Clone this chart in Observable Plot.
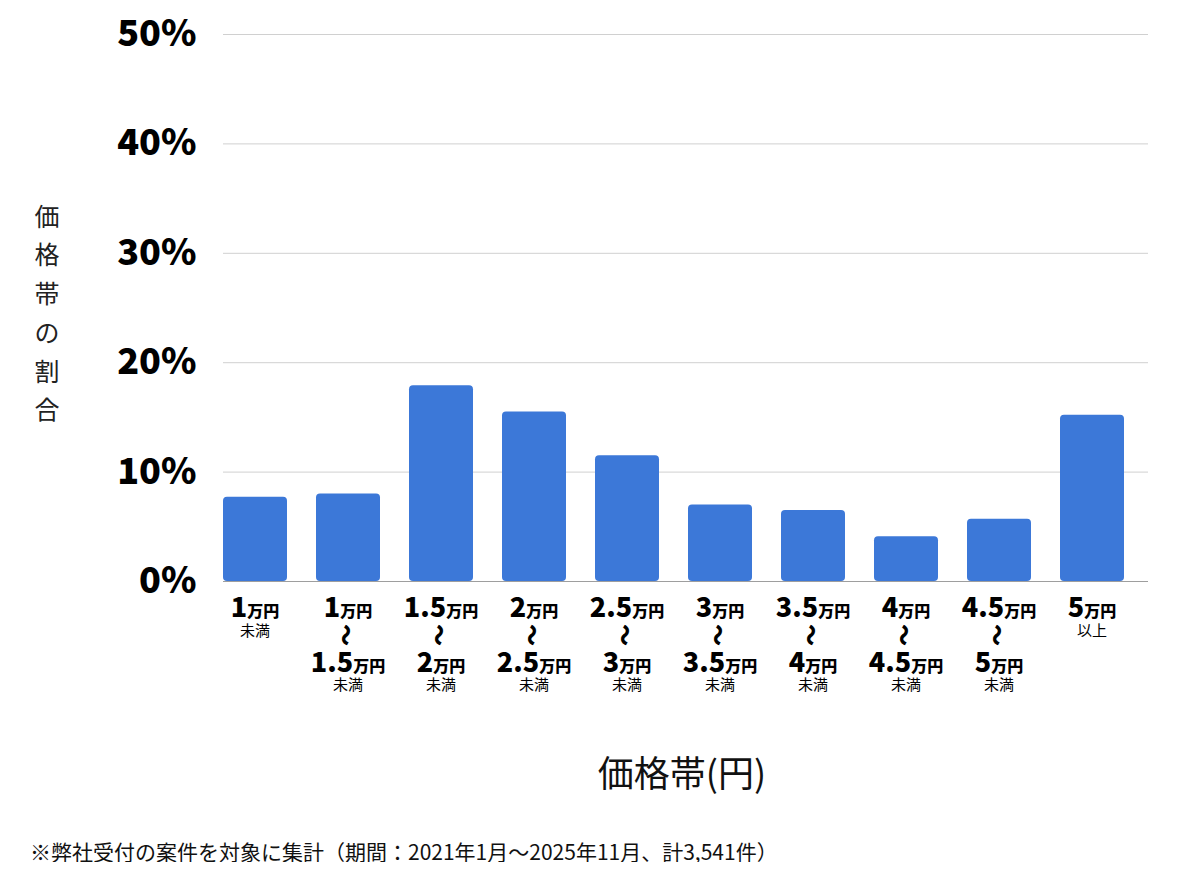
<!DOCTYPE html>
<html><head><meta charset="utf-8">
<script src="https://cdn.jsdelivr.net/npm/d3@7"></script>
<script src="https://cdn.jsdelivr.net/npm/@observablehq/plot@0.6"></script>
<style>
body{margin:0;background:#fff;font-family:"Noto Sans CJK JP",sans-serif;}
#chart svg{display:block;}
#caption{margin:10px 0 0 30px;font-size:21px;line-height:22px;color:#111;white-space:nowrap;}
</style></head><body>
<div id="chart"></div>
<div id="caption">※弊社受付の案件を対象に集計（期間：2021年1月〜2025年11月、計3,541件）</div>
<script>
// ---- data ----
const categories = ["1万円未満","1〜1.5万円","1.5〜2万円","2〜2.5万円","2.5〜3万円","3〜3.5万円","3.5〜4万円","4〜4.5万円","4.5〜5万円","5万円以上"];
const shares = [7.7, 8.0, 17.9, 15.5, 11.5, 7.0, 6.5, 4.1, 5.7, 15.2];
const fromLabels = ["1","1","1.5","2","2.5","3","3.5","4","4.5","5"];
const toLabels = ["","1.5","2","2.5","3","3.5","4","4.5","5",""];
const noteLabels = ["未満","未満","未満","未満","未満","未満","未満","未満","未満","以上"];
const unitLabel = "万円";
const yTicks = [0,10,20,30,40,50];
const yTitle = "価格帯の割合";
const xTitle = "価格帯(円)";

const data = categories.map((c,i)=>({category:c, share:shares[i], from:fromLabels[i], to:toLabels[i], note:noteLabels[i]}));

const FONT = '"Noto Sans CJK JP", sans-serif';

function drawTickLabels(index, scales, values, dims) {
  let bw = 0;
  if (scales.x && typeof scales.x.bandwidth === "function") bw = scales.x.bandwidth();
  else if (scales.scales && scales.scales.x && scales.scales.x.bandwidth != null) bw = scales.scales.x.bandwidth;
  const g = d3.create("svg:g").attr("font-family", FONT).attr("fill", "#000").attr("text-anchor", "middle");
  const base = dims.height - dims.marginBottom;
  for (const i of index) {
    const d = data[i];
    const cx = values.x[i] + bw / 2;
    const amount = (txt, y) => {
      const t = g.append("text").attr("x", cx).attr("y", y).attr("font-weight", 900);
      t.append("tspan").attr("font-size", 27).text(txt);
      t.append("tspan").attr("font-size", 16).text(unitLabel);
    };
    amount(d.from, base + 36);
    if (d.to) {
      g.append("text").attr("transform", `translate(${cx},${base + 54}) rotate(90)`)
        .attr("dominant-baseline", "central").attr("font-size", 22).attr("font-weight", 900).text("〜");
      amount(d.to, base + 91);
      g.append("text").attr("x", cx).attr("y", base + 109).attr("font-size", 15).text(d.note);
    } else {
      g.append("text").attr("x", cx).attr("y", base + 55).attr("font-size", 15).text(d.note);
    }
  }
  return g.node();
}

const chart = Plot.plot({
  width: 1200, height: 830,
  marginLeft: 223, marginRight: 52, marginTop: 34, marginBottom: 249,
  style: {fontFamily: FONT, background: "#fff", color: "#000", overflow: "visible"},
  x: {domain: categories, paddingInner: 0.317, paddingOuter: 0.1315, align: 0, axis: null},
  y: {domain: [0, 50], axis: null},
  marks: [
    Plot.ruleY(yTicks.filter(t => t > 0), {stroke: "#d0d0d0", strokeWidth: 1}),
    Plot.axisY(yTicks, {tickSize: 0, tickPadding: 27, tickFormat: d => d + "%", fontSize: 36, fontWeight: 900, fill: "#000", label: null}),
    Plot.barY(data, {x: "category", y: "share", fill: "#3c78d8", rx: 4}),
    Plot.ruleY([0], {stroke: "#9e9e9e", strokeWidth: 1}),
    Plot.text(data, {x: "category", frameAnchor: "bottom", text: "category", render: drawTickLabels}),
    Plot.text([yTitle.split("").join("\n")], {frameAnchor: "left", dx: -189, dy: 2, fontSize: 25, lineHeight: 1.55, fill: "#222"}),
    Plot.text([xTitle], {frameAnchor: "bottom", lineAnchor: "middle", dy: 194, dx: -4, fontSize: 36, fill: "#111"})
  ]
});
document.getElementById("chart").append(chart);
</script>
</body></html>
